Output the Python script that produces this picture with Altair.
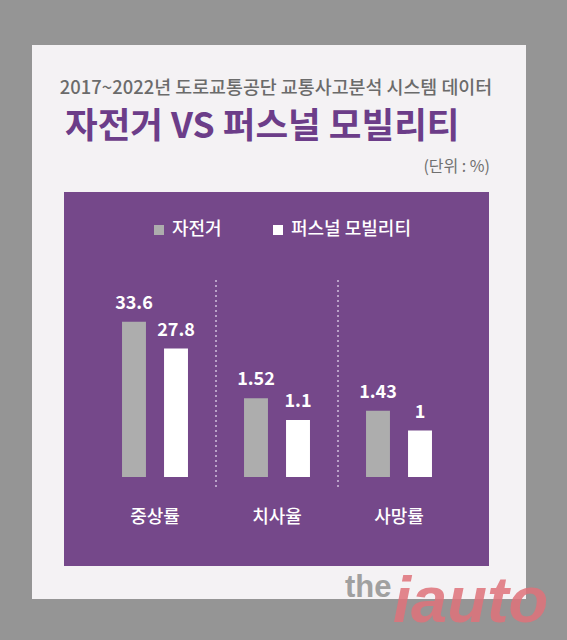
import altair as alt
import pandas as pd

# ---- data ----
groups = ["중상률", "치사율", "사망률"]
series = ["자전거", "퍼스널 모빌리티"]
bicycle = [33.6, 1.52, 1.43]
pmobility = [27.8, 1.1, 1.0]
# each group is drawn on its own scale in the original graphic
group_scale_max = [43.3, 3.86, 4.31]

subtitle = "2017~2022년 도로교통공단 교통사고분석 시스템 데이터"
title = "자전거 VS 퍼스널 모빌리티"
unit = "(단위 : %)"
brand = ["the", "iauto"]

rows = []
for g, b, p in zip(groups, bicycle, pmobility):
    rows.append({"group": g, "series": series[0], "value": b, "label": f"{b:g}"})
    rows.append({"group": g, "series": series[1], "value": p, "label": f"{p:g}"})
df = pd.DataFrame(rows)

FONT = "Noto Sans CJK KR"
PURPLE = "#75488a"

one = alt.Data(values=[{}])


def rect(x, x2, y, y2, color):
    return alt.Chart(one).mark_rect(color=color).encode(
        x=alt.value(x), x2=alt.value(x2), y=alt.value(y), y2=alt.value(y2)
    )


def label(text, x, y, **kw):
    return alt.Chart(alt.Data(values=[{"t": text}])).mark_text(**kw).encode(
        x=alt.value(x), y=alt.value(y), text="t:N"
    )


card = rect(32, 526, 45, 599, "#f4f2f4")
panel = rect(64, 489, 192, 566, PURPLE)

t_sub = label(subtitle, 276, 88, font=FONT, fontSize=18.4, fontWeight=500,
              color="#6b6b6b", align="center", baseline="middle")
t_main = label(title, 65, 127, font=FONT, fontSize=35.5, fontWeight="bold",
               color="#6c3d89", align="left", baseline="middle")
t_unit = label(unit, 490, 167, font=FONT, fontSize=16, color="#707070",
               align="right", baseline="middle")

x_enc = alt.X("group:N", axis=None,
              scale=alt.Scale(domain=groups, range=[94, 460],
                              paddingInner=0, paddingOuter=0))
xo_enc = alt.XOffset("series:N",
                     scale=alt.Scale(domain=series, paddingInner=0.43,
                                     paddingOuter=0.667))
color_enc = alt.Color(
    "series:N",
    scale=alt.Scale(domain=series, range=["#adadad", "#ffffff"]),
    legend=alt.Legend(orient="none", legendX=150, legendY=221,
                      direction="horizontal", title=None, symbolType="square",
                      symbolSize=100, symbolStrokeWidth=0, labelColor="white",
                      labelFont=FONT, labelFontSize=18, labelFontWeight=500,
                      labelOffset=4, columnPadding=47, padding=0,
                      labelLimit=400),
)

group_layers = []
for g, ymax in zip(groups, group_scale_max):
    y_enc = alt.Y("value:Q", axis=None,
                  scale=alt.Scale(domain=[0, ymax], range=[477, 277], nice=False))
    base = alt.Chart(df).transform_filter(alt.datum.group == g)
    bars = base.mark_bar().encode(x=x_enc, xOffset=xo_enc, y=y_enc, color=color_enc)
    txt = base.mark_text(font=FONT, fontSize=18, fontWeight="bold", color="white",
                         baseline="bottom", dy=-9).encode(
        x=x_enc, xOffset=xo_enc, y=y_enc, text="label:N")
    group_layers += [bars, txt]

cats = alt.Chart(pd.DataFrame({"group": groups})).mark_text(
    font=FONT, fontSize=18, fontWeight=500, color="white", baseline="middle"
).encode(x=x_enc, y=alt.value(518), text="group:N")

seps = alt.Chart(pd.DataFrame({"group": groups[1:]})).mark_rule(
    color="#b9a2c8", strokeWidth=2, strokeDash=[2, 3]
).encode(x=alt.X("group:N", bandPosition=0, axis=None,
                 scale=alt.Scale(domain=groups, range=[94, 460],
                                 paddingInner=0, paddingOuter=0)),
         y=alt.value(280), y2=alt.value(489))

w_the = label(brand[0], 345, 597, font="Liberation Sans", fontSize=31,
              fontWeight="bold", color="#a0a0a0", align="left",
              baseline="alphabetic")
w_iauto = label(brand[1], 393, 622, font="Liberation Sans", fontSize=65,
                fontWeight="bold", fontStyle="italic", color="#e0727a",
                opacity=0.85, align="left", baseline="alphabetic")

chart = alt.layer(
    card, panel, t_sub, t_main, t_unit, seps, *group_layers, cats, w_the, w_iauto
).resolve_scale(y="independent").properties(
    width=567, height=640, padding=0, background="#959595",
    autosize=alt.AutoSizeParams(type="none"),
).configure_view(stroke=None)

chart.save("out.html", embed_options={"renderer": "svg", "actions": False})
